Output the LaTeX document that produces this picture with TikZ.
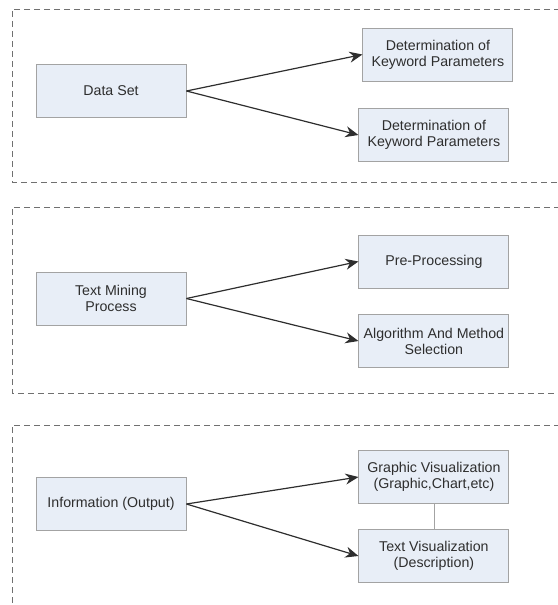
\documentclass[tikz,border=0pt]{standalone}
\usepackage{fontspec}
\setmainfont{Liberation Sans}
\usetikzlibrary{positioning}
\usetikzlibrary{arrows.meta}
\definecolor{boxfill}{HTML}{E8EEF7}
\definecolor{boxline}{HTML}{A3A3A3}
\definecolor{boxtext}{HTML}{2E2E2E}
\definecolor{arrowline}{HTML}{2E2E2E}
\definecolor{groupline}{HTML}{707070}
\tikzset{
    node distance=172pt,
    box/.style={
        draw=boxline,
        fill=boxfill,
        text=boxtext,
        line width=0.9pt,
        minimum width=150pt,
        minimum height=53pt,
        align=center,
        font=\fontsize{14.2}{16}\selectfont
    },
    group/.style={
        draw=groupline,
        line width=0.8pt,
        dash pattern=on 6pt off 4pt
    },
    link/.style={
        draw=arrowline,
        line width=1.2pt,
        -{Stealth[length=13pt,width=11pt]}
    }
}

\begin{document}
\begin{tikzpicture}[x=1pt,y=-1pt]
                \useasboundingbox (0,0) rectangle (557,605);

                % dashed groups
                \draw[group] (560,9) -- (12,9) -- (12,182) -- (560,182);
                \draw[group] (560,207) -- (12,207) -- (12,393) -- (560,393);
                \draw[group] (560,425) -- (12,425) -- (12,610);

                % data set
                \node[box] (data) at (111,91) {Data Set};
                \node[box, right=of data, yshift=36.5pt, xshift=4pt] (kwa) {Determination of\\Keyword Parameters};
                \node[box, right=of data, yshift=-44pt] (kwb) {Determination of\\Keyword Parameters};

                % text mining
                \node[box] (mining) at (111,298.5) {Text Mining\\Process};
                \node[box, right=of mining, yshift=37pt] (prep) {Pre-Processing};
                \node[box, right=of mining, yshift=-42.5pt] (algo) {Algorithm And Method\\Selection};

                % output
                \node[box] (info) at (111,504) {Information (Output)};
                \node[box, right=of info, yshift=27pt] (graph) {Graphic Visualization\\(Graphic,Chart,etc)};
                \node[box, right=of info, yshift=-52pt] (textvis) {Text Visualization\\(Description)};

                \draw[link] (data.east) -- (kwa.west);
                \draw[link] (data.east) -- (kwb.west);
                \draw[link] (mining.east) -- (prep.west);
                \draw[link] (mining.east) -- (algo.west);
                \draw[link] (info.east) -- (graph.west);
                \draw[link] (info.east) -- (textvis.west);
                \draw[boxline, line width=0.8pt] (graph.south) -- (textvis.north);
            \end{tikzpicture}
\end{document}
